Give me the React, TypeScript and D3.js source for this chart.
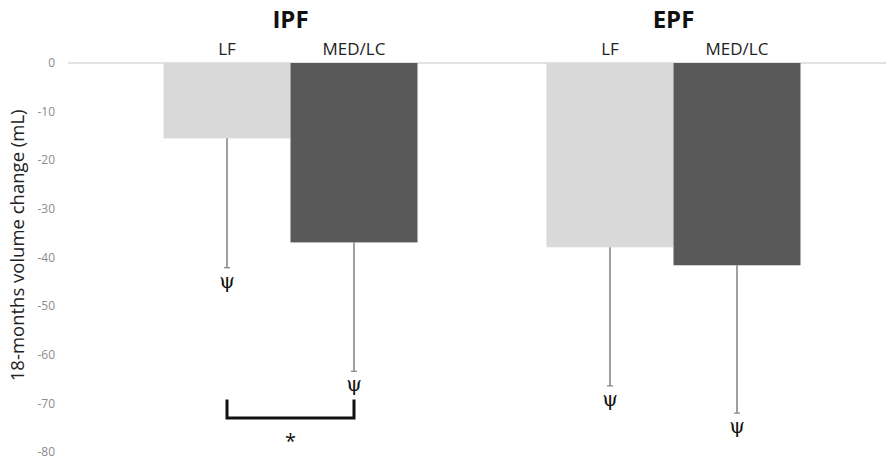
import React, { useEffect, useRef } from 'react';
import * as d3 from 'd3';

const groups = ['IPF', 'EPF'];
const diets = ['LF', 'MED/LC'];
const meanChange = [
  [-15.5, -36.9],
  [-37.9, -41.6],
];
const errorLow = [
  [-42.1, -63.4],
  [-66.4, -72.0],
];
const yTicks = [0, -10, -20, -30, -40, -50, -60, -70, -80];
const barColors = ['#d9d9d9', '#595959'];

export default function App() {
  const ref = useRef<SVGSVGElement>(null);

  useEffect(() => {
    const svg = d3.select(ref.current);
    svg.selectAll('*').remove();

    const width = 886;
    const height = 464;
    const font = '"Open Sans", Lato, sans-serif';

    const y = d3.scaleLinear().domain([0, -80]).range([63, 452]);
    const xGroup = d3.scaleBand().domain(groups).range([99, 865]).padding(0);
    const xDiet = d3
      .scaleBand()
      .domain(diets)
      .range([0, xGroup.bandwidth()])
      .paddingInner(0)
      .paddingOuter(0.508);

    // y tick labels
    svg
      .append('g')
      .selectAll('text')
      .data(yTicks)
      .join('text')
      .attr('x', 55)
      .attr('y', (d) => y(d))
      .attr('dy', '0.35em')
      .attr('text-anchor', 'end')
      .attr('fill', '#8c8c8c')
      .style('font-family', font)
      .style('font-size', '12px')
      .text((d) => d);

    // zero line
    svg
      .append('line')
      .attr('x1', 68)
      .attr('x2', width)
      .attr('y1', y(0))
      .attr('y2', y(0))
      .attr('stroke', '#d9d9d9')
      .attr('stroke-width', 1.5);

    // y axis label
    svg
      .append('text')
      .attr('transform', `translate(24, ${y(-37.5)}) rotate(-90)`)
      .attr('text-anchor', 'middle')
      .attr('fill', '#222')
      .style('font-family', font)
      .style('font-size', '18.5px')
      .text('18-months volume change (mL)');

    groups.forEach((g, gi) => {
      const gx = xGroup(g) as number;

      svg
        .append('text')
        .attr('x', gx + xGroup.bandwidth() / 2)
        .attr('y', 28)
        .attr('text-anchor', 'middle')
        .attr('fill', '#111')
        .style('font-family', font)
        .style('font-weight', 'bold')
        .style('font-size', '24px')
        .text(g);

      diets.forEach((d, di) => {
        const bx = gx + (xDiet(d) as number);
        const bw = xDiet.bandwidth();
        const cx = bx + bw / 2;
        const v = meanChange[gi][di];
        const lo = errorLow[gi][di];

        svg
          .append('text')
          .attr('x', cx)
          .attr('y', 55)
          .attr('text-anchor', 'middle')
          .attr('fill', '#222')
          .style('font-family', font)
          .style('font-size', '17px')
          .text(d);

        svg
          .append('rect')
          .attr('x', bx)
          .attr('y', y(0))
          .attr('width', bw)
          .attr('height', y(v) - y(0))
          .attr('fill', barColors[di]);

        svg
          .append('line')
          .attr('x1', cx)
          .attr('x2', cx)
          .attr('y1', y(v))
          .attr('y2', y(lo))
          .attr('stroke', '#7f7f7f')
          .attr('stroke-width', 1.5);

        svg
          .append('line')
          .attr('x1', cx - 3)
          .attr('x2', cx + 3)
          .attr('y1', y(lo))
          .attr('y2', y(lo))
          .attr('stroke', '#7f7f7f')
          .attr('stroke-width', 1.2);

        svg
          .append('text')
          .attr('x', cx)
          .attr('y', y(lo) + 20)
          .attr('text-anchor', 'middle')
          .attr('fill', '#111')
          .style('font-family', '"DejaVu Serif", "Liberation Serif", serif')
          .style('font-size', '20px')
          .text('ψ');
      });
    });

    // significance bracket between IPF LF and IPF MED/LC
    const g0 = xGroup('IPF') as number;
    const c1 = g0 + (xDiet('LF') as number) + xDiet.bandwidth() / 2;
    const c2 = g0 + (xDiet('MED/LC') as number) + xDiet.bandwidth() / 2;
    const top = y(-69.2);
    const bottom = y(-73);
    svg
      .append('path')
      .attr('d', `M${c1},${top}V${bottom}H${c2}V${top}`)
      .attr('fill', 'none')
      .attr('stroke', '#111')
      .attr('stroke-width', 3);

    svg
      .append('text')
      .attr('x', (c1 + c2) / 2)
      .attr('y', bottom + 30)
      .attr('text-anchor', 'middle')
      .attr('fill', '#111')
      .style('font-family', font)
      .style('font-size', '20px')
      .text('*');

    svg.attr('width', width).attr('height', height);
  }, []);

  return (
    <svg
      ref={ref}
      width={886}
      height={464}
      style={{ position: 'absolute', left: 0, top: 0, background: '#fff' }}
    />
  );
}
